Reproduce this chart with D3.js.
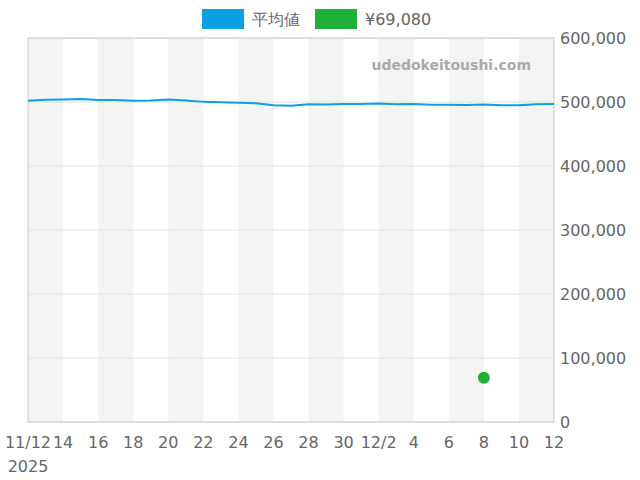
<!DOCTYPE html>
<html><head><meta charset="utf-8">
<script src="https://cdn.jsdelivr.net/npm/d3@7"></script>
<style>body{margin:0;background:#fff}text{font-family:"DejaVu Sans",sans-serif}</style>
</head><body><svg id="c" width="640" height="480"></svg>
<script>
var startDate = "2025-11-12";
var avgValues = [502000,503500,503800,504500,503000,503200,502000,502200,504000,502500,500200,499800,499000,498000,495000,494200,496500,496000,497000,497000,497500,496500,496800,495800,495800,495500,496000,495000,495000,496500,497000];
var pointDate = "2025-12-08";
var pointValue = 69080;
var yTicks = [0,100000,200000,300000,400000,500000,600000];
var legendNames = ["平均値","¥69,080"];
var legendColors = ["#0b9fe3","#21b03a"];

var parse = d3.utcParse("%Y-%m-%d");
var t0 = parse(startDate);
var days = avgValues.map(function(d,i){ return d3.utcDay.offset(t0,i); });
var svg = d3.select("#c");
var L = 28, R = 554, T = 38, B = 422;
var x = d3.scaleUtc().domain([t0, days[days.length-1]]).range([L,R]);
var y = d3.scaleLinear().domain([0,600000]).range([B,T]);

// stripes
for (var i = 0; i < days.length-1; i += 4) {
  svg.append("rect").attr("x", x(days[i])).attr("y", T)
    .attr("width", x(days[Math.min(i+2,days.length-1)]) - x(days[i])).attr("height", B-T)
    .attr("fill", "#f4f4f4");
}
svg.selectAll(".g").data(yTicks).enter().append("line")
  .attr("x1",L).attr("x2",R).attr("y1",function(d){return y(d);}).attr("y2",function(d){return y(d);})
  .attr("stroke","#e2e2e2");
svg.append("rect").attr("x",L).attr("y",T).attr("width",R-L).attr("height",B-T)
  .attr("fill","none").attr("stroke","#ccc");

svg.append("text").attr("x",531).attr("y",70).attr("text-anchor","end")
  .attr("font-size",14).attr("font-weight","bold").attr("fill","#aaa").text("udedokeitoushi.com");

svg.selectAll(".yl").data(yTicks).enter().append("text")
  .attr("x",560).attr("y",function(d){return y(d)+6;}).attr("font-size",16).attr("fill","#666")
  .text(function(d){return d3.format(",")(d);});

var xt = days.filter(function(d,i){return i%2===0;});
svg.selectAll(".xl").data(xt).enter().append("text")
  .attr("x",function(d){return x(d);}).attr("y",448).attr("text-anchor","middle")
  .attr("font-size",16).attr("fill","#666")
  .text(function(d,i){
    if (i===0) return "11/12";
    if (d.getUTCDate()===2) return (d.getUTCMonth()+1)+"/2";
    return d.getUTCDate();
  });
svg.append("text").attr("x",28).attr("y",472).attr("text-anchor","middle").attr("font-size",16).attr("fill","#666").text("2025");

svg.append("path").datum(avgValues)
  .attr("d", d3.line().x(function(d,i){return x(days[i]);}).y(function(d){return y(d);}))
  .attr("fill","none").attr("stroke",legendColors[0]).attr("stroke-width",2);
svg.append("circle").attr("cx",x(parse(pointDate))).attr("cy",y(pointValue)).attr("r",6).attr("fill",legendColors[1]);

var lx = [202,315];
legendNames.forEach(function(n,i){
  svg.append("rect").attr("x",lx[i]).attr("y",9).attr("width",42).attr("height",20).attr("fill",legendColors[i]);
  svg.append("text").attr("x",lx[i]+50).attr("y",25).attr("font-size",16).attr("fill","#666").text(n);
});
</script></body></html>
